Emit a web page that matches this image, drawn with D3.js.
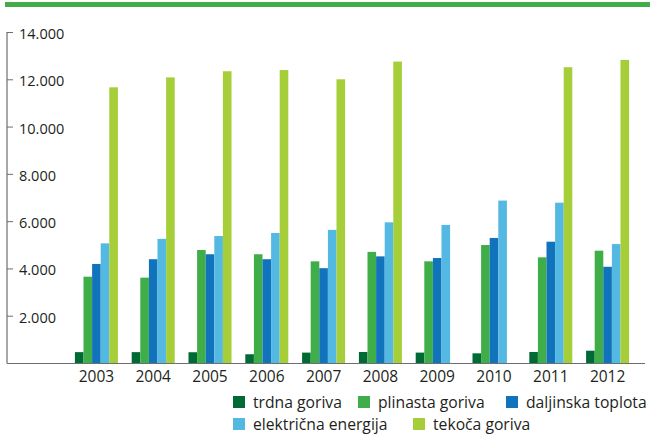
<!DOCTYPE html>
<html><head><meta charset="utf-8">
<script src="https://cdn.jsdelivr.net/npm/d3@7"></script>
<style>
html,body{margin:0;padding:0;background:#fff;}
svg{display:block;}
text{font-family:"Open Sans",sans-serif;fill:#231f20;}
</style></head>
<body>
<svg id="chart" width="650" height="437"></svg>
<script>
const years = ["2003","2004","2005","2006","2007","2008","2009","2010","2011","2012"];
const seriesNames = ["trdna goriva","plinasta goriva","daljinska toplota","električna energija","tekoča goriva"];
const seriesColors = ["#006a35","#3fae49","#1173bb","#53b8e2","#a6ce39"];
const trdna =      [460, 460, 455, 370, 440, 465, 440, 410, 465, 520];
const plinasta =   [3650, 3610, 4780, 4600, 4300, 4700, 4300, 4990, 4470, 4750];
const daljinska =  [4190, 4390, 4600, 4390, 4010, 4510, 4440, 5290, 5130, 4070];
const elektricna = [5060, 5250, 5370, 5500, 5630, 5950, 5840, 6870, 6780, 5030];
const tekoca =     [11660, 12080, 12340, 12390, 12000, 12750, 0, 0, 12510, 12820];
const yTicks = [2000, 4000, 6000, 8000, 10000, 12000, 14000];

const values = [trdna, plinasta, daljinska, elektricna, tekoca];
const svg = d3.select("#chart");

// top green rule
svg.append("rect").attr("x",5).attr("y",2).attr("width",645).attr("height",5).attr("fill","#41ad49");

const x0 = d3.scaleBand().domain(years).range([68,636]).paddingInner(0.243).paddingOuter(0.1215);
const x1 = d3.scaleBand().domain(d3.range(seriesNames.length)).range([0, x0.bandwidth()]);
const y = d3.scaleLinear().domain([0,14000]).range([363,32]);

const loc = d3.formatLocale({decimal:",", thousands:".", grouping:[3], currency:["","€"]});
const fmt = loc.format(",.0f");

// bars
const g = svg.append("g");
years.forEach((yr, i) => {
  const grp = g.append("g").attr("transform", `translate(${x0(yr)},0)`);
  values.forEach((arr, s) => {
    const v = arr[i];
    if (!v) return;
    grp.append("rect")
      .attr("x", x1(s)).attr("width", x1.bandwidth())
      .attr("y", y(v)).attr("height", y(0) - y(v))
      .attr("fill", seriesColors[s]);
  });
});

// y axis
const yAxis = d3.axisRight(y).tickValues(yTicks).tickFormat(fmt).tickSize(6).tickPadding(6);
const ya = svg.append("g").attr("transform","translate(7,0)").call(yAxis);
ya.select(".domain").remove();
ya.selectAll(".tick line").attr("stroke","#6d6e71");
ya.selectAll(".tick text").attr("font-size","14.5px").attr("font-family","Open Sans, sans-serif").attr("fill","#231f20").attr("dy","0.45em");
svg.append("line").attr("x1",7).attr("x2",7).attr("y1",y(14000)).attr("y2",y(0)+0.5).attr("stroke","#6d6e71").attr("stroke-width",1.2);

// x axis
svg.append("line").attr("x1",7).attr("x2",645).attr("y1",y(0)+0.5).attr("y2",y(0)+0.5).attr("stroke","#6d6e71").attr("stroke-width",1.2);
const xa = d3.axisBottom(x0).tickSize(0).tickPadding(8);
const xg = svg.append("g").attr("transform",`translate(0,${y(0)})`).call(xa);
xg.select(".domain").remove();
xg.selectAll(".tick text").attr("font-size","15.5px").attr("font-family","Open Sans, sans-serif").attr("fill","#231f20").attr("dy","0.72em");

// legend
const legendPos = [[233,402],[358,402],[506,402],[233,424],[413,424]];
seriesNames.forEach((name, s) => {
  const [lx, ly] = legendPos[s];
  const lg = svg.append("g").attr("transform",`translate(${lx},${ly})`);
  lg.append("rect").attr("x",0).attr("y",-6).attr("width",12).attr("height",12).attr("fill",seriesColors[s]);
  lg.append("text").attr("x",20).attr("y",0).attr("dy","0.36em").attr("font-size","15.7px").text(name);
});
</script>
</body></html>
